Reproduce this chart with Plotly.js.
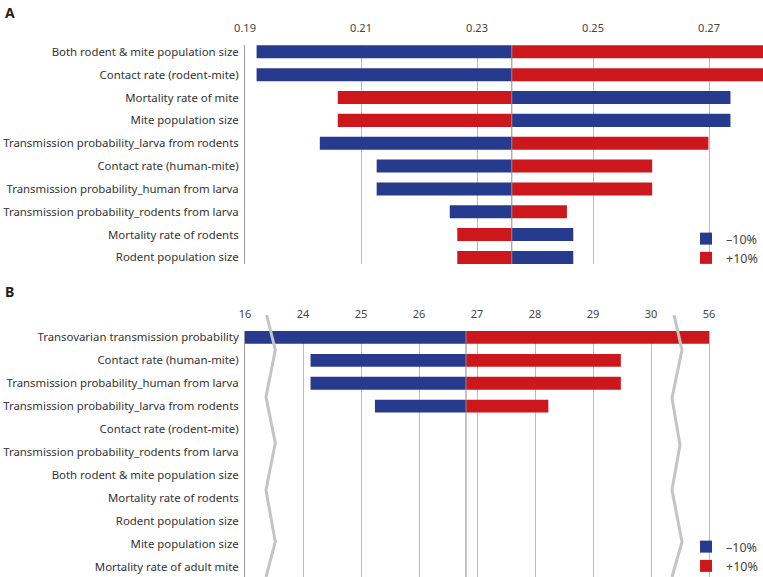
<!DOCTYPE html>
<html><head><meta charset="utf-8">
<script src="https://cdn.plot.ly/plotly-3.0.1.min.js"></script>
<style>html,body{margin:0;padding:0;background:#fff;overflow:hidden}</style>
</head><body><div id="chart" style="width:763px;height:577px"></div>
<script>
// ---- Panel A data ----
const catsA = [
  'Both rodent & mite population size',
  'Contact rate (rodent-mite)',
  'Mortality rate of mite',
  'Mite population size',
  'Transmission probability_larva from rodents',
  'Contact rate (human-mite)',
  'Transmission probability_human from larva',
  'Transmission probability_rodents from larva',
  'Mortality rate of rodents',
  'Rodent population size'
];
const baseA = 0.236;
const minusA = [0.192, 0.192, 0.2737, 0.2737, 0.2029, 0.2127, 0.2127, 0.2253, 0.2466, 0.2466];
const plusA  = [0.2795, 0.2795, 0.2060, 0.2060, 0.2699, 0.2602, 0.2602, 0.2455, 0.2266, 0.2266];
const ticksA = [0.19, 0.21, 0.23, 0.25, 0.27];

// ---- Panel B data ----
const catsB = [
  'Transovarian transmission probability',
  'Contact rate (human-mite)',
  'Transmission probability_human from larva',
  'Transmission probability_larva from rodents',
  'Contact rate (rodent-mite)',
  'Transmission probability_rodents from larva',
  'Both rodent & mite population size',
  'Mortality rate of rodents',
  'Rodent population size',
  'Mite population size',
  'Mortality rate of adult mite'
];
const baseB = 26.81;
const minusB = [16, 24.13, 24.13, 25.24, 26.81, 26.81, 26.81, 26.81, 26.81, 26.81, 26.81];
const plusB  = [56, 29.48, 29.48, 28.23, 26.81, 26.81, 26.81, 26.81, 26.81, 26.81, 26.81];
const ticksB = [16, 24, 25, 26, 27, 28, 29, 30, 56];

const BLUE = '#263a8e', RED = '#cc171d';
const W = 763, H = 577;

// broken-axis transform for panel B
function brk(v){
  if (v < 24) return 23 + (v - 16) / 8;
  if (v <= 30) return v;
  return 30 + (v - 30) / 26;
}
const bB = brk(baseB);

const traces = [
  {type:'bar', orientation:'h', name:'\u201310%', y:catsA, x:minusA.map(v=>v-baseA), base:baseA,
   marker:{color:BLUE}, width:0.57, xaxis:'x', yaxis:'y', legend:'legend', hoverinfo:'skip'},
  {type:'bar', orientation:'h', name:'+10%', y:catsA, x:plusA.map(v=>v-baseA), base:baseA,
   marker:{color:RED}, width:0.57, xaxis:'x', yaxis:'y', legend:'legend', hoverinfo:'skip'},
  {type:'bar', orientation:'h', name:'\u201310%', y:catsB, x:minusB.map(v=>brk(v)-bB), base:bB,
   marker:{color:BLUE}, width:0.56, xaxis:'x2', yaxis:'y2', legend:'legend2', hoverinfo:'skip'},
  {type:'bar', orientation:'h', name:'+10%', y:catsB, x:plusB.map(v=>brk(v)-bB), base:bB,
   marker:{color:RED}, width:0.56, xaxis:'x2', yaxis:'y2', legend:'legend2', hoverinfo:'skip'}
];

const px = p => p / W, py = p => 1 - p / H;
function zig(pts){
  return pts.map((p,i)=>(i?'L':'M')+px(p[0]).toFixed(5)+','+py(p[1]).toFixed(5)).join(' ');
}
const leftZig  = [[266.7,315],[275.3,350],[266,397],[275.3,443],[266,490],[275.3,542],[266,577]];
const rightZig = [[674,315],[682,350],[672,398],[680,445],[672,490],[682,542],[672,577]];

const FONT = 'Noto Sans, sans-serif';
const gridC = '#bcbcbc';

const layout = {
  width:W, height:H,
  margin:{l:0, r:0, t:0, b:0, autoexpand:false},
  paper_bgcolor:'#fff', plot_bgcolor:'rgba(0,0,0,0)',
  font:{family:FONT, color:'#333', size:12},
  barmode:'overlay',
  showlegend:true,
  xaxis:{domain:[245/W, 1], range:[0.19, 0.19 + 518/5800], side:'top', anchor:'y',
         tickvals:ticksA, ticktext:ticksA.map(v=>v.toFixed(2)), ticks:'', ticklabelstandoff:10,
         tickfont:{size:11, color:'#444'}, showgrid:true, gridcolor:gridC, gridwidth:1,
         zeroline:false, showline:false, fixedrange:true, automargin:false},
  yaxis:{domain:[1-264.3/H, 1-45/H], range:[9.3, -0.3], type:'category', anchor:'x',
         ticks:'', showline:true, linecolor:'#9a9a9a', linewidth:1, showgrid:false, ticklabelstandoff:3,
         tickfont:{size:11.4, color:'#333'}, fixedrange:true, automargin:false},
  xaxis2:{domain:[245/W, 1], range:[23, 23 + 518/58], side:'top', anchor:'y2',
         tickvals:ticksB.map(brk), ticktext:ticksB.map(String), ticks:'', ticklabelstandoff:10,
         tickfont:{size:11, color:'#444'}, showgrid:true, gridcolor:gridC, gridwidth:1,
         zeroline:false, showline:false, fixedrange:true, automargin:false},
  yaxis2:{domain:[0, 1-331/H], range:[10.45, -0.28], type:'category', anchor:'x2',
         ticks:'', showline:true, linecolor:'#9a9a9a', linewidth:1, showgrid:false, ticklabelstandoff:3,
         tickfont:{size:11.4, color:'#333'}, fixedrange:true, automargin:false},
  legend:{x:1, y:py(224), xanchor:'right', yanchor:'top', font:{size:12.5, color:'#444'},
          bgcolor:'rgba(0,0,0,0)', traceorder:'normal', itemwidth:30},
  legend2:{x:1, y:py(532), xanchor:'right', yanchor:'top', font:{size:12.5, color:'#444'},
          bgcolor:'rgba(0,0,0,0)', traceorder:'normal', itemwidth:30},
  shapes:[
    {type:'line', xref:'x', yref:'y domain', x0:baseA, x1:baseA, y0:0, y1:1,
     line:{color:'#8a8a8a', width:1}, layer:'above'},
    {type:'line', xref:'x2', yref:'y2 domain', x0:bB, x1:bB, y0:0, y1:1,
     line:{color:'#8a8a8a', width:1}, layer:'above'},
    {type:'path', xref:'paper', yref:'paper', path:zig(leftZig),
     line:{color:'#c4c4c4', width:3}, layer:'above'},
    {type:'path', xref:'paper', yref:'paper', path:zig(rightZig),
     line:{color:'#c4c4c4', width:3}, layer:'above'}
  ],
  annotations:[
    {text:'<b>A</b>', xref:'paper', yref:'paper', x:px(3), y:py(12), xanchor:'left', yanchor:'middle',
     showarrow:false, font:{size:14, color:'#222'}},
    {text:'<b>B</b>', xref:'paper', yref:'paper', x:px(3), y:py(291), xanchor:'left', yanchor:'middle',
     showarrow:false, font:{size:14, color:'#222'}}
  ]
};

Plotly.newPlot('chart', traces, layout, {displayModeBar:false, staticPlot:true});
</script></body></html>
